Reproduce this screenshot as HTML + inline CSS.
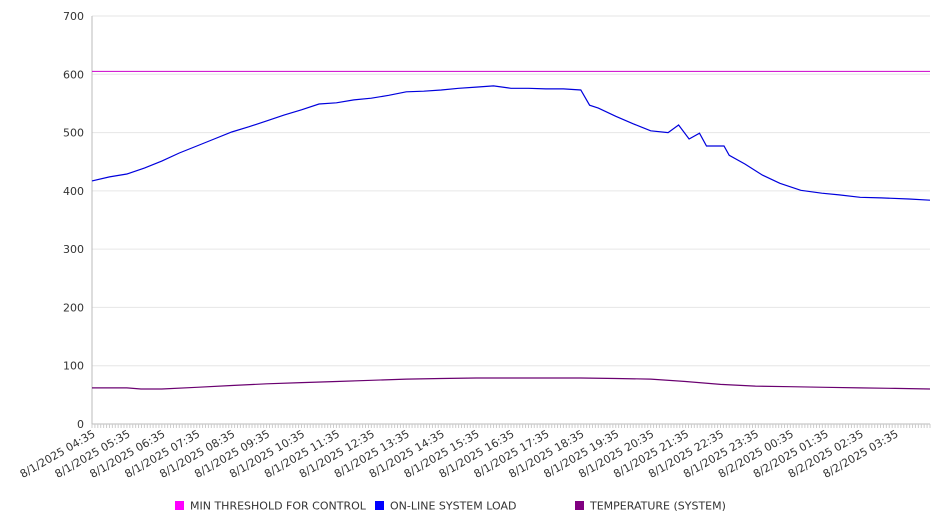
<!DOCTYPE html>
<html><head><meta charset="utf-8"><style>
html,body{margin:0;padding:0;background:#fff}
svg{display:block;font-family:"DejaVu Sans","Liberation Sans",sans-serif}
</style></head><body>
<svg id="chart" width="946" height="526" xmlns="http://www.w3.org/2000/svg">
<g id="grid"></g>
<g id="yaxis"></g>
<g id="xaxis"></g>
<g id="series"></g>
<g id="legend"></g>
</svg>
<script>
const yTicks=[0,100,200,300,400,500,600,700];
const xTickLabels=["8/1/2025 04:35","8/1/2025 05:35","8/1/2025 06:35","8/1/2025 07:35","8/1/2025 08:35","8/1/2025 09:35","8/1/2025 10:35","8/1/2025 11:35","8/1/2025 12:35","8/1/2025 13:35","8/1/2025 14:35","8/1/2025 15:35","8/1/2025 16:35","8/1/2025 17:35","8/1/2025 18:35","8/1/2025 19:35","8/1/2025 20:35","8/1/2025 21:35","8/1/2025 22:35","8/1/2025 23:35","8/2/2025 00:35","8/2/2025 01:35","8/2/2025 02:35","8/2/2025 03:35"];
const threshold=605;
const loadHours=[0,0.5,1,1.5,2,2.5,3,3.5,4,4.5,5,5.5,6,6.5,7,7.5,8,8.5,9,9.5,10,10.5,11,11.5,12,12.5,13,13.5,14,14.25,14.5,15,15.5,16,16.5,16.8,17.1,17.4,17.6,18.1,18.25,18.7,19.2,19.7,20.3,20.9,21.4,22,22.6,23.4,24];
const loadValues=[417,424,429,439,451,465,477,489,501,510,520,530,539,549,551,556,559,564,570,571,573,576,578,580,576,576,575,575,573,547,542,528,515,503,500,513,489,499,477,477,461,446,427,413,401,396,393,389,388,386,384];
const tempHours=[0,1,1.4,2,3,4,5,6,7,8,9,10,11,12,13,14,15,16,17,18,19,20,21,22,23,24];
const tempValues=[62,62,60,60,63,66,69,71,73,75,77,78,79,79,79,79,78,77,73,68,65,64,63,62,61,60];
const NS="http://www.w3.org/2000/svg";
const X0=92,X1=930,Y0=424,Y1=16,HOURS=24;
const xs=h=>X0+(X1-X0)*h/HOURS;
const ys=v=>Y0-(Y0-Y1)*v/700;
function mk(t,a,p){const e=document.createElementNS(NS,t);for(const k in a)e.setAttribute(k,a[k]);p.appendChild(e);return e;}
const grid=document.getElementById('grid'),yaxis=document.getElementById('yaxis'),xaxis=document.getElementById('xaxis'),series=document.getElementById('series'),legend=document.getElementById('legend');
yTicks.forEach(v=>{
 if(v>0){const l=mk('line',{x1:X0,x2:X1,y1:ys(v),y2:ys(v),stroke:'#e6e6e6','stroke-width':1},grid);
 
 }
 const t=mk('text',{x:84,y:ys(v)+4,'text-anchor':'end','font-size':11,fill:'#333'},yaxis);
 t.textContent=v;
 
 
});
const ax=mk('line',{x1:X0,x2:X0,y1:Y1,y2:Y0,stroke:'#bbb'},yaxis);


const bx=mk('line',{x1:X0,x2:X1,y1:Y0,y2:Y0,stroke:'#bbb'},xaxis);


for(let m=0;m<=HOURS*12;m++){const x=xs(m/12);const tk=mk('line',{x1:x,x2:x,y1:Y0,y2:Y0+4,stroke:'#ccc'},xaxis);
 
 }
xTickLabels.forEach((s,i)=>{const x=xs(i)+4,y=Y0+12;
 const t=mk('text',{x:x,y:y,'text-anchor':'end','font-size':11,fill:'#333',transform:`rotate(-30 ${x} ${y})`},xaxis);
 t.textContent=s;
 
 });
const th=mk('line',{x1:X0,x2:X1,y1:ys(threshold),y2:ys(threshold),stroke:'#cc00cc','stroke-width':1},series);


function path(hs,vs,col,name){const d=hs.map((h,i)=>(i?'L':'M')+xs(h).toFixed(1)+','+ys(vs[i]).toFixed(1)).join('');
 const p=mk('path',{d:d,fill:'none',stroke:col,'stroke-width':1.2},series);
 
 }
path(loadHours,loadValues,'#0000dd','online-system-load-line');
path(tempHours,tempValues,'#6a0070','temperature-line');
const leg=[['MIN THRESHOLD FOR CONTROL','#ff00ff',175],['ON-LINE SYSTEM LOAD','#0000ff',375],['TEMPERATURE (SYSTEM)','#800080',575]];
leg.forEach(([s,c,x])=>{const g=mk('g',{},legend);
 
 
 mk('rect',{x:x,y:501,width:9,height:9,fill:c},g);
 const t=mk('text',{x:x+15,y:509.5,'font-size':11,fill:'#333'},g);t.textContent=s;});
</script>
</body></html>
